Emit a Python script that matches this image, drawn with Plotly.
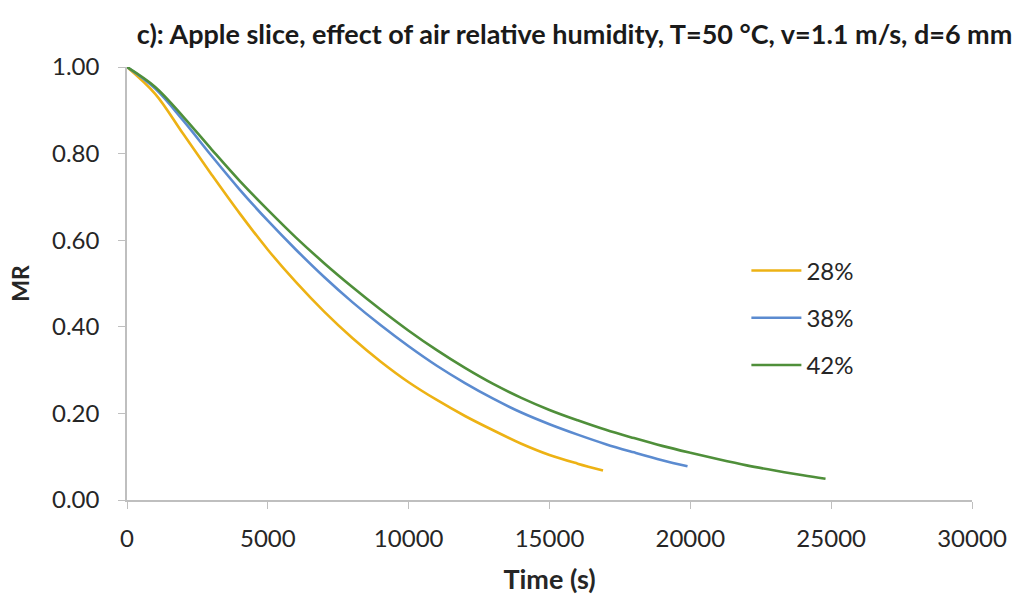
import plotly.graph_objects as go

# Drying curves: moisture ratio vs time for three air relative humidities
labels = ["28%", "38%", "42%"]
colors = ["#EDB214", "#5B8BD0", "#4F8F3A"]

time_28 = [0, 1000, 2000, 3000, 4000, 5000, 6000, 7000, 8000, 9000, 10000,
           11000, 12000, 13000, 14000, 15000, 16000, 16900]
mr_28 = [1.000, 0.938, 0.845, 0.752, 0.662, 0.578, 0.503, 0.435, 0.374,
         0.320, 0.272, 0.231, 0.194, 0.161, 0.130, 0.104, 0.084, 0.068]

time_38 = [0, 1000, 2000, 3000, 4000, 5000, 6000, 7000, 8000, 9000, 10000,
           11000, 12000, 13000, 14000, 15000, 16000, 17000, 18000, 19000, 19900]
mr_38 = [1.000, 0.950, 0.876, 0.795, 0.717, 0.645, 0.578, 0.515, 0.457,
         0.404, 0.355, 0.310, 0.270, 0.234, 0.202, 0.175, 0.151, 0.129, 0.110,
         0.092, 0.078]

time_42 = [0, 1000, 2000, 3000, 4000, 5000, 6000, 7000, 8000, 9000, 10000,
           11000, 12000, 13000, 14000, 15000, 16000, 17000, 18000, 19000, 20000,
           21000, 22000, 23000, 24000, 24800]
mr_42 = [1.000, 0.954, 0.885, 0.810, 0.737, 0.670, 0.606, 0.547, 0.492,
         0.440, 0.391, 0.346, 0.305, 0.268, 0.236, 0.208, 0.184, 0.162, 0.143,
         0.125, 0.109, 0.094, 0.080, 0.068, 0.057, 0.049]

x_ticks = [0, 5000, 10000, 15000, 20000, 25000, 30000]
y_ticks = [0.0, 0.2, 0.4, 0.6, 0.8, 1.0]

FONT = "Lato"
AXIS_GREY = "#BFBFBF"
TEXT = "#262626"

fig = go.Figure()
for i, (t, mr) in enumerate([(time_28, mr_28), (time_38, mr_38), (time_42, mr_42)]):
    fig.add_trace(go.Scatter(
        x=t, y=mr, mode="lines", name=labels[i], legendgroup=labels[i],
        line=dict(color=colors[i], width=2.6, shape="spline", smoothing=1.0),
    ))

fig.update_layout(
    width=1017, height=598,
    margin=dict(l=127, r=45, t=67, b=98),
    paper_bgcolor="white", plot_bgcolor="white",
    font=dict(family=FONT, size=24, color=TEXT),
    title=dict(
        text="<b>c): Apple slice, effect of air relative humidity, T=50 °C, v=1.1 m/s, d=6 mm</b>",
        x=0.565, xref="container", xanchor="center",
        y=0.942, yref="container", yanchor="middle",
        font=dict(family=FONT, size=27, color="#1a1a1a"),
    ),
    showlegend=True,
    legend=dict(
        x=0.733, y=0.581, xanchor="left", yanchor="top",
        bgcolor="rgba(0,0,0,0)", font=dict(size=24, color=TEXT),
        tracegroupgap=13, itemwidth=50,
    ),
)

fig.update_xaxes(
    range=[0, 30000], tickvals=x_ticks, ticktext=[str(v) for v in x_ticks],
    showgrid=False, zeroline=False, showline=True, linecolor=AXIS_GREY, linewidth=1.5,
    ticks="outside", ticklen=7, tickcolor=AXIS_GREY, ticklabelstandoff=9,
    title=dict(text="<b>Time (s)</b>", font=dict(size=27), standoff=20),
    automargin=False,
)
fig.update_yaxes(
    range=[0, 1.0], tickvals=y_ticks, ticktext=[f"{v:.2f}" for v in y_ticks],
    showgrid=False, zeroline=False, showline=True, linecolor=AXIS_GREY, linewidth=1.5,
    ticks="outside", ticklen=7, tickcolor=AXIS_GREY, ticklabelstandoff=14,
    title=dict(text="<b>MR</b>", font=dict(size=23), standoff=16),
    automargin=False,
)

fig.write_html("out.html")
